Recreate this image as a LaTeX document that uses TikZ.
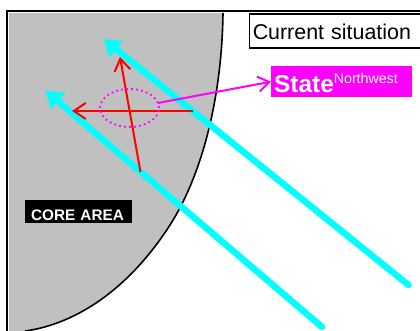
\documentclass[tikz,border=0pt]{standalone}
\usepackage{fontspec}
\setmainfont{Liberation Sans}
\usetikzlibrary{arrows.meta,positioning,calc,shapes.geometric}
\definecolor{coregray}{RGB}{192,192,192}
\definecolor{puremagenta}{RGB}{255,0,255}
\definecolor{purecyan}{RGB}{0,255,255}
\definecolor{purered}{RGB}{255,0,0}
\tikzset{
  movearrow/.style={-{Triangle[length=16.5pt,width=20.5pt]}, purecyan, line width=6.5pt, line cap=round},
  stresssign/.style={-{Straight Barb[length=12pt,width=16pt]}, purered, line width=2pt},
  pointer/.style={-{Straight Barb[length=11pt,width=15pt]}, puremagenta, line width=2pt},
  titlebox/.style={draw=black, line width=1.5pt, fill=white, font=\fontsize{21.4}{24}\selectfont, inner xsep=3.5pt, inner ysep=0pt, text height=25pt, text depth=9pt, text width=172pt, align=left},
  statebox/.style={fill=puremagenta, text=white, font=\bfseries\fontsize{24.4}{28}\selectfont, inner xsep=3pt, inner ysep=0pt, text height=26pt, text depth=5pt, text width=135pt, align=left},
  corebox/.style={fill=black, text=white, font=\bfseries\fontsize{15.3}{17}\selectfont, inner xsep=6pt, inner ysep=0pt, text height=20pt, text depth=3pt, text width=95pt, align=left},
  ringnode/.style={draw=puremagenta, dash pattern=on 1.8pt off 3.2pt, line width=1.8pt, ellipse, minimum width=59pt, minimum height=38pt, inner sep=0pt},
}
\begin{document}
\begin{tikzpicture}[x=1pt, y=-1pt]
  \useasboundingbox (0,0) rectangle (420,331);

  % core area
  \fill[coregray] (9,13) -- (223,13) .. controls (222,90) and (205,170) .. (170,225)
    .. controls (125,295) and (70,325) .. (25,331) -- (9,331) -- cycle;
  \draw[black, line width=1.6pt] (223,13) .. controls (222,90) and (205,170) .. (170,225)
    .. controls (125,295) and (70,325) .. (25,331);
  \draw[black, line width=2pt] (7,331) -- (7,11) -- (420,11);

  \node[titlebox, anchor=north west] (title) at (248.5,13.5) {Current situation};
  \node[statebox, anchor=north west] (state) at (271,66) {State\raisebox{9pt}{\mdseries\fontsize{14.2}{16}\selectfont Northwest}};
  \node[corebox, anchor=north west] (core) at (25,200) {CORE AREA};

  \coordinate (tail1) at (408.5,285);
  \coordinate (head1) at (103.5,39);
  \coordinate (tail2) at (322,327);
  \coordinate (head2) at (45.5,90.5);
  \draw[movearrow] (tail1) -- (head1);
  \draw[movearrow] (tail2) -- (head2);

  \coordinate (south) at (140.5,172);
  \coordinate (north) at (120,57);
  \coordinate (east) at (193,111);
  \coordinate (west) at (72,111);
  \draw[stresssign] (south) -- (north);
  \draw[stresssign] (east) -- (west);

  \node[ringnode] (ring) at (129.5,108) {};
  \draw[pointer] (158,103) -- (state.west);
\end{tikzpicture}
\end{document}
